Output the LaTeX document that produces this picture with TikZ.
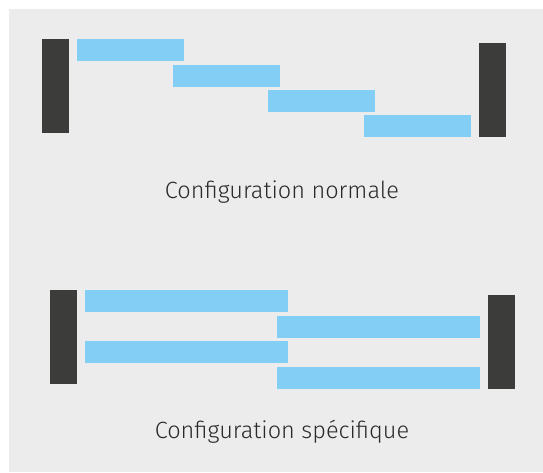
\documentclass[tikz,border=0pt]{standalone}
\usepackage{fontspec}
\setmainfont{Fira Sans Light}
\definecolor{bg}{HTML}{ECECEC}
\definecolor{darkbar}{HTML}{3C3C3A}
\definecolor{bluebar}{HTML}{83CEF5}
\definecolor{txt}{HTML}{2A2A2A}
\tikzset{
  endbar/.style={fill=darkbar, draw=none, inner sep=0pt, anchor=north west, minimum width=27pt, minimum height=94pt},
  shortbar/.style={fill=bluebar, draw=none, inner sep=0pt, anchor=north west, minimum width=107pt, minimum height=22pt},
  longbar/.style={fill=bluebar, draw=none, inner sep=0pt, anchor=north west, minimum width=203pt, minimum height=22pt},
  caption/.style={text=txt, font=\fontsize{23.5}{26}\selectfont, inner sep=0pt, anchor=base}
}
\begin{document}
\begin{tikzpicture}[x=1pt,y=-1pt]
\useasboundingbox (0,0) rectangle (543,472);
\fill[white] (0,0) rectangle (543,472);
\fill[bg] (9,9) rectangle (543,472);
% top configuration
\node[endbar] (L1) at (42,39) {};
\node[shortbar] (a1) at (77,39) {};
\node[shortbar] (a2) at (173,65) {};
\node[shortbar] (a3) at (268,90) {};
\node[shortbar] (a4) at (364,115) {};
\node[endbar] (R1) at (479,43) {};
\node[caption] (t1) at (282,198) {Configuration normale};
% bottom configuration
\node[endbar] (L2) at (50,290) {};
\node[longbar] (b1) at (85,290) {};
\node[longbar] (b2) at (277,316) {};
\node[longbar] (b3) at (85,341) {};
\node[longbar] (b4) at (277,367) {};
\node[endbar] (R2) at (488,295) {};
\node[caption] (t2) at (282,438) {Configuration spécifique};
\end{tikzpicture}
\end{document}
